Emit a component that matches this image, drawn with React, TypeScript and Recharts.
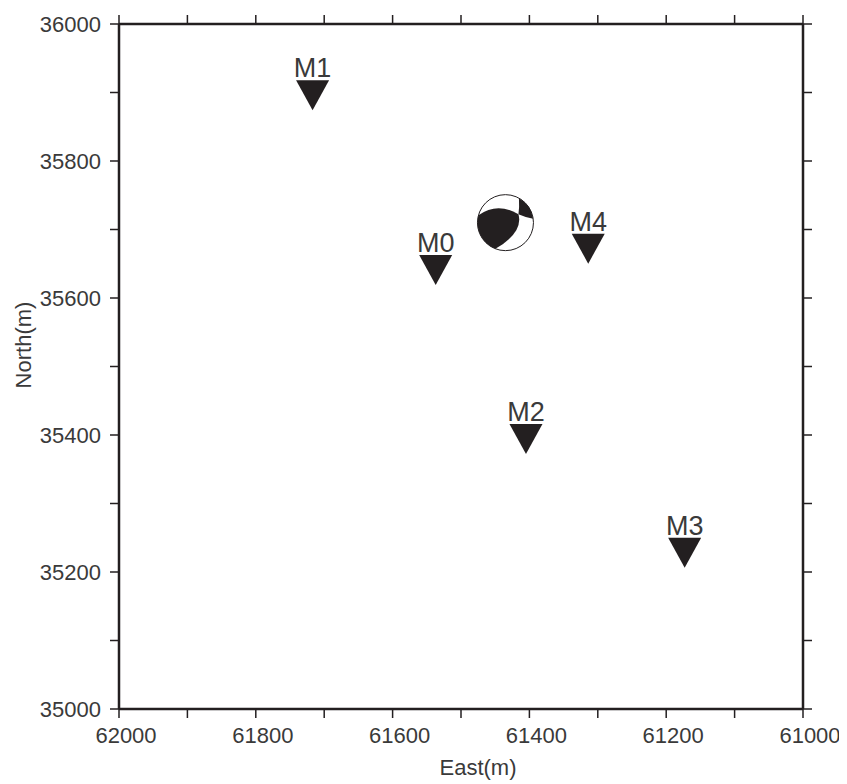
import { ScatterChart, Scatter, XAxis, YAxis } from "recharts";

// axis ticks (every 100 m), labelled every 200 m
const eastTicks = [62000, 61900, 61800, 61700, 61600, 61500, 61400, 61300, 61200, 61100, 61000];
const northTicks = [35000, 35100, 35200, 35300, 35400, 35500, 35600, 35700, 35800, 35900, 36000];
const eastLabels = [62000, 61800, 61600, 61400, 61200, 61000];
const northLabels = [35000, 35200, 35400, 35600, 35800, 36000];

// stations
const stationNames = ["M0", "M1", "M2", "M3", "M4"];
const stationEast = [61537, 61717, 61405, 61173, 61314];
const stationNorth = [35641, 35896, 35394, 35228, 35672];

// event (focal mechanism)
const eventEast = [61435];
const eventNorth = [35710];

const stations = stationNames.map((name, i) => ({ name, x: stationEast[i], y: stationNorth[i] }));
const events = eventEast.map((x, i) => ({ x, y: eventNorth[i] }));

const INK = "#231f20";
const TEXT = "#3a3a3a";
const FONT = "'Liberation Sans', Arial, sans-serif";

const XTick = (props: any) => {
  const { x, y, payload } = props;
  if (!eastLabels.includes(payload.value)) return <g />;
  return (
    <text x={x + 7} y={y + 15} textAnchor="middle" fontSize={22} fill={TEXT} fontFamily={FONT}>
      {payload.value}
    </text>
  );
};

const YTick = (props: any) => {
  const { x, y, payload } = props;
  if (!northLabels.includes(payload.value)) return <g />;
  return (
    <text x={x + 1} y={y + 7.5} textAnchor="end" fontSize={22} fill={TEXT} fontFamily={FONT}>
      {payload.value}
    </text>
  );
};

const NoTick = () => <g />;

const Station = (props: any) => {
  const { cx, cy, payload } = props;
  return (
    <g>
      <path d={`M${cx - 16.5},${cy - 15}L${cx + 16.5},${cy - 15}L${cx},${cy + 15}Z`} fill={INK} />
      <text x={cx} y={cy - 18} textAnchor="middle" fontSize={27} fill={TEXT} fontFamily={FONT}>
        {payload.name}
      </text>
    </g>
  );
};

const BeachBall = (props: any) => {
  const { cx, cy } = props;
  return (
    <g>
      <circle cx={cx} cy={cy} r={28} fill="#fff" />
      <path
        d={`M${cx - 27},${cy - 7.4} Q${cx - 8},${cy - 21} ${cx + 13},${cy - 8.3} Q${cx + 18},${cy + 10} ${cx - 10},${cy + 26.2} A28 28 0 0 1 ${cx - 27},${cy - 7.4}Z`}
        fill={INK}
      />
      <path
        d={`M${cx + 13.5},${cy - 24.5} Q${cx + 14},${cy - 16} ${cx + 13},${cy - 8.3} Q${cx + 20},${cy - 5} ${cx + 27.7},${cy - 4} A28 28 0 0 0 ${cx + 13.5},${cy - 24.5}Z`}
        fill={INK}
      />
      <circle cx={cx} cy={cy} r={28} fill="none" stroke={INK} strokeWidth={1} />
    </g>
  );
};

const axisLine = { stroke: INK, strokeWidth: 2.5 };
const tickLine = { stroke: INK, strokeWidth: 1.5 };

const App = () => {
  return (
    <ScatterChart width={839} height={776} margin={{ top: 0, right: 0, bottom: 0, left: 0 }}>
      <XAxis
        xAxisId="b"
        type="number"
        dataKey="x"
        domain={[61000, 62000]}
        reversed
        ticks={eastTicks}
        interval={0}
        orientation="bottom"
        height={75}
        tickSize={9}
        tickMargin={10}
        axisLine={axisLine}
        tickLine={tickLine}
        tick={<XTick />}
        label={{ value: "East(m)", position: "insideBottom", offset: 9, dx: 17, fontSize: 22, fill: TEXT, fontFamily: FONT }}
      />
      <XAxis
        xAxisId="t"
        type="number"
        dataKey="x"
        domain={[61000, 62000]}
        reversed
        ticks={eastTicks}
        interval={0}
        orientation="top"
        height={16}
        tickSize={9}
        axisLine={axisLine}
        tickLine={tickLine}
        tick={<NoTick />}
      />
      <YAxis
        yAxisId="l"
        type="number"
        dataKey="y"
        domain={[35000, 36000]}
        ticks={northTicks}
        interval={0}
        width={111}
        tickSize={9}
        tickMargin={10}
        axisLine={axisLine}
        tickLine={tickLine}
        tick={<YTick />}
        label={{ value: "North(m)", angle: -90, position: "center", dx: -40.5, dy: -21.5, fontSize: 22, fill: TEXT, fontFamily: FONT }}
      />
      <YAxis
        yAxisId="r"
        type="number"
        dataKey="y"
        domain={[35000, 36000]}
        ticks={northTicks}
        interval={0}
        orientation="right"
        width={44}
        tickSize={9}
        axisLine={axisLine}
        tickLine={tickLine}
        tick={<NoTick />}
      />
      <Scatter xAxisId="t" yAxisId="r" data={events} shape={<BeachBall />} isAnimationActive={false} />
      <Scatter xAxisId="b" yAxisId="l" data={stations} shape={<Station />} isAnimationActive={false} />
    </ScatterChart>
  );
};

export default App;
